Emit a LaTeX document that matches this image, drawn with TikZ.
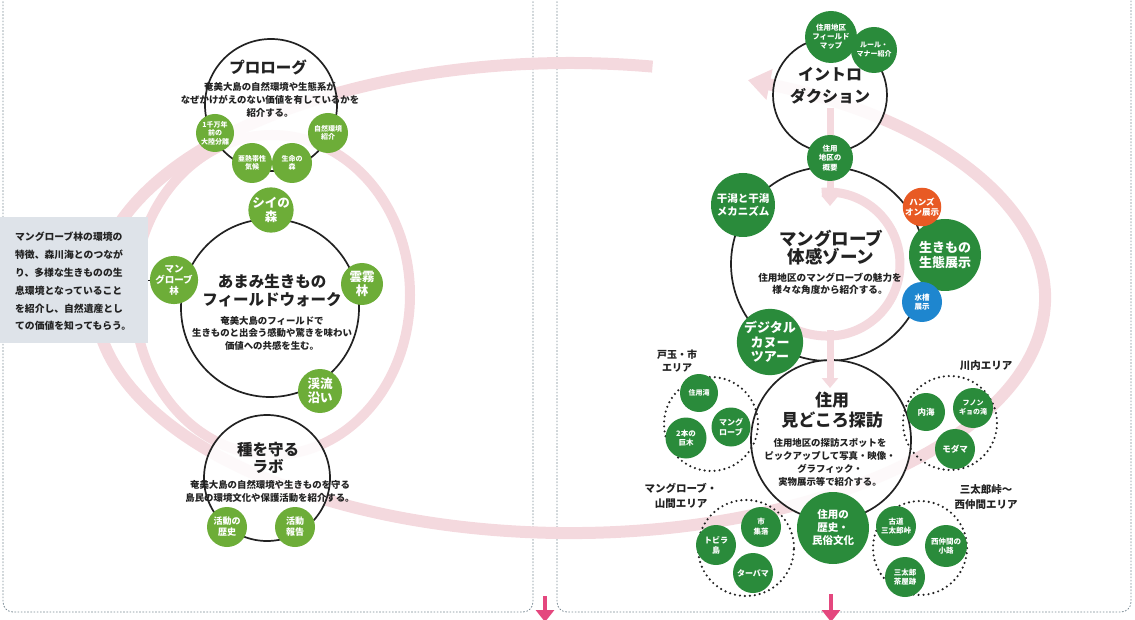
\documentclass[tikz,border=0pt]{standalone}
\usepackage{fontspec}
\setmainfont{Noto Sans CJK JP}
\usetikzlibrary{arrows.meta}
\definecolor{lgreen}{HTML}{6DAD38}
\definecolor{dgreen}{HTML}{2A8B3B}
\definecolor{orng}{HTML}{E85A24}
\definecolor{blu}{HTML}{1E86CF}
\definecolor{pinkband}{HTML}{F4D9DE}
\definecolor{pinkarrow}{HTML}{E4477E}
\definecolor{boxfill}{HTML}{DEE3E9}
\definecolor{ink}{HTML}{222222}
\definecolor{border}{HTML}{7A8A94}
\newcommand\fsx[2]{\fontsize{#1}{#2}\selectfont\bfseries}
\begin{document}
\begin{tikzpicture}[x=1pt,y=-1pt,
  maincirc/.style={circle,draw=ink,line width=1.7pt,fill=white,fill opacity=0.85,inner sep=0pt},
  sat/.style={circle,inner sep=0pt,text=white,align=center},
  lsat/.style={sat,fill=lgreen},
  rsat/.style={sat,fill=dgreen},
  osat/.style={sat,fill=orng},
  bsat/.style={sat,fill=blu},
  areacirc/.style={circle,draw=ink,line width=2.4pt,dash pattern=on 0pt off 5pt,line cap=round,inner sep=0pt},
  ttl/.style={align=center,text=ink,inner sep=0pt},
  desc/.style={align=center,text=ink,inner sep=0pt},
  band/.style={draw=pinkband,line width=12pt},
  rband/.style={draw=pinkband,line width=7pt},
  panel/.style={draw=border,line width=0.8pt,dash pattern=on 1.6pt off 1.6pt,rounded corners=10pt},
  bigarrow/.style={draw=pinkarrow,line width=4pt,-{Triangle[width=18pt,length=12pt]}},
]
\useasboundingbox (0,0) rectangle (1135,620);

% panels
\draw[panel] (533,-5) -- (533,612) -- (3,612) -- (3,-5);
\draw[panel] (557,-5) -- (557,612) -- (1131,612) -- (1131,-5);

% pink background loops
\draw[band,-{Triangle[width=30pt,length=22pt]}] (652.5,66.6) arc[start angle=80,end angle=428,x radius=475pt,y radius=235pt];
\draw[band,line width=10pt] (272,295) ellipse[x radius=138pt,y radius=160pt];

% main circles
\node[maincirc,minimum size=132pt] (prolog) at (271,105) {};
\node[maincirc,minimum size=178pt] (walk) at (270,308) {};
\node[maincirc,minimum size=126pt] (lab) at (267,478) {};
\node[maincirc,minimum size=114pt] (intro) at (830,95) {};
\node[maincirc,minimum size=194pt] (mang) at (828,264) {};
\node[maincirc,minimum size=160pt] (spot) at (831,440) {};

% inner pink ring and vertical arrows on the right
\draw[rband,line width=9pt,-{Triangle[width=20pt,length=13pt]}] (821.7,192.3) arc[start angle=95,end angle=-135,radius=72pt];
\coordinate (v1) at (830,108);
\coordinate (v2) at (830,206);
\coordinate (v3) at (830,330);
\coordinate (v4) at (830,388);
\draw[rband,-{Triangle[width=16pt,length=10pt]}] (v1) -- (v2);
\draw[rband,-{Triangle[width=16pt,length=10pt]}] (v3) -- (v4);

% bottom arrows
\coordinate (b1s) at (545,596);
\coordinate (b1e) at (545,622);
\coordinate (b2s) at (831,594);
\coordinate (b2e) at (831,622);
\draw[bigarrow] (b1s) -- (b1e);
\draw[bigarrow] (b2s) -- (b2e);

% ---------- left panel ----------
\node[ttl,font=\fsx{15.5}{18}] (prologT) at (268,67) {プロローグ};
\node[desc,font=\fsx{9.4}{13}] (prologD) at (270,100) {奄美大島の自然環境や生態系が\\なぜかけがえのない価値を有しているかを\\紹介する。};
\node[lsat,minimum size=38pt,font=\fsx{7}{8.6}] (p1) at (215,133) {1千万年\\前の\\大陸分離};
\node[lsat,minimum size=40pt,font=\fsx{7}{8.6}] (p2) at (252,163) {亜熱帯性\\気候};
\node[lsat,minimum size=40pt,font=\fsx{7}{8.6}] (p3) at (292,163) {生命の\\森};
\node[lsat,minimum size=40pt,font=\fsx{7}{8.6}] (p4) at (328,133) {自然環境\\紹介};

\node[ttl,font=\fsx{15.5}{18}] (walkT) at (272,291) {あまみ生きもの\\フィールドウォーク};
\node[desc,font=\fsx{9.4}{12.5}] (walkD) at (272,333) {奄美大島のフィールドで\\生きものと出会う感動や驚きを味わい\\価値への共感を生む。};
\node[lsat,minimum size=44pt,font=\fsx{12.5}{14}] (w1) at (271,210) {シイの\\森};
\node[lsat,minimum size=42pt,font=\fsx{9.5}{11}] (w2) at (174,280) {マン\\グローブ\\林};
\node[lsat,minimum size=42pt,font=\fsx{12.5}{14}] (w3) at (362,284) {雲霧\\林};
\node[lsat,minimum size=44pt,font=\fsx{12.5}{14}] (w4) at (320,391) {渓流\\沿い};

\node[fill=boxfill,minimum width=149pt,minimum height=125pt,inner sep=0pt] (note) at (73.5,280) {};
\node[anchor=west,align=left,text=ink,inner sep=0pt,font=\fsx{9.8}{17.8}] (noteT) at (15,281.5) {マングローブ林の環境の\\特徴、森川海とのつなが\\り、多様な生きものの生\\息環境となっていること\\を紹介し、自然遺産とし\\ての価値を知ってもらう。};
\draw[ink,line width=0.8pt] (note.east) -- (w2.west);

\node[ttl,font=\fsx{15.5}{17}] (labT) at (268,458) {種を守る\\ラボ};
\node[desc,font=\fsx{9.4}{13}] (labD) at (270,491) {奄美大島の自然環境や生きものを守る\\島民の環境文化や保護活動を紹介する。};
\node[lsat,minimum size=40pt,font=\fsx{9}{11}] (l1) at (227,527) {活動の\\歴史};
\node[lsat,minimum size=40pt,font=\fsx{9}{11}] (l2) at (295,527) {活動\\報告};

% ---------- right panel ----------
\node[ttl,font=\fsx{16}{22}] (introT) at (830,86) {イントロ\\ダクション};
\node[rsat,minimum size=52pt,font=\fsx{7.5}{9}] (i1) at (831,37) {住用地区\\フィールド\\マップ};
\node[rsat,minimum size=46pt,font=\fsx{7}{9}] (i2) at (874,50) {ルール・\\マナー紹介};
\node[rsat,minimum size=46pt,font=\fsx{7.5}{9.5}] (i3) at (830,158) {住用\\地区の\\概要};

\node[ttl,font=\fsx{17.5}{18}] (mangT) at (831,248) {マングローブ\\体感ゾーン};
\node[desc,font=\fsx{9.6}{12}] (mangD) at (830,284) {住用地区のマングローブの魅力を\\様々な角度から紹介する。};
\node[rsat,minimum size=64pt,font=\fsx{10.5}{12.5}] (m1) at (743,205) {干潟と干潟\\メカニズム};
\node[rsat,minimum size=72pt,font=\fsx{13}{15.5}] (m3) at (945,255) {生きもの\\生態展示};
\node[osat,minimum size=38pt,font=\fsx{8.5}{10}] (m2) at (922,207) {ハンズ\\オン展示};
\node[bsat,minimum size=40pt,font=\fsx{7.5}{9.5}] (m4) at (922,302) {水槽\\展示};
\node[rsat,minimum size=66pt,font=\fsx{13}{14.5}] (m5) at (770,342) {デジタル\\カヌー\\ツアー};

\node[ttl,font=\fsx{17}{20}] (spotT) at (832,410) {住用\\見どころ探訪};
\node[desc,font=\fsx{9.4}{13}] (spotD) at (830,462.5) {住用地区の探訪スポットを\\ピックアップして写真・映像・\\グラフィック・\\実物展示等で紹介する。};
\node[rsat,minimum size=72pt,font=\fsx{10.5}{13}] (s0) at (833,528) {住用の\\歴史・\\民俗文化};

% areas
\node[areacirc,minimum size=94pt] (a1) at (711,424) {};
\node[ttl,font=\fsx{10}{12.5}] (a1L) at (677,361) {戸玉・市\\エリア};
\node[rsat,minimum size=38pt,font=\fsx{7}{9}] (a1s1) at (699,393) {住用滝};
\node[rsat,minimum size=41pt,font=\fsx{7.5}{9}] (a1s2) at (686,438) {2本の\\巨木};
\node[rsat,minimum size=39pt,font=\fsx{8}{10}] (a1s3) at (731,427) {マング\\ローブ};

\node[areacirc,minimum size=94pt] (a2) at (950,423) {};
\node[ttl,font=\fsx{10.5}{12.5}] (a2L) at (986,366) {川内エリア};
\node[rsat,minimum size=38pt,font=\fsx{8.5}{10}] (a2s1) at (926,412) {内海};
\node[rsat,minimum size=40pt,font=\fsx{7}{9}] (a2s2) at (973,408) {フノン\\ギョの滝};
\node[rsat,minimum size=40pt,font=\fsx{8.5}{10}] (a2s3) at (955,449) {モダマ};

\node[areacirc,minimum size=96pt] (a3) at (746,548) {};
\node[ttl,font=\fsx{10.5}{15}] (a3L) at (681,496) {マングローブ・\\山間エリア};
\node[rsat,minimum size=40pt,font=\fsx{8}{10}] (a3s1) at (716,545) {トビラ\\島};
\node[rsat,minimum size=40pt,font=\fsx{7.5}{10}] (a3s2) at (761,527) {市\\集落};
\node[rsat,minimum size=40pt,font=\fsx{8}{10}] (a3s3) at (753,573) {ターバマ};

\node[areacirc,minimum size=94pt] (a4) at (920,548) {};
\node[ttl,font=\fsx{10.5}{15}] (a4L) at (986,497.5) {三太郎峠〜\\西仲間エリア};
\node[rsat,minimum size=40pt,font=\fsx{7.5}{9.5}] (a4s1) at (896,526) {古道\\三太郎峠};
\node[rsat,minimum size=42pt,font=\fsx{7.5}{9.5}] (a4s2) at (946,546) {西仲間の\\小路};
\node[rsat,minimum size=40pt,font=\fsx{7.5}{9.5}] (a4s3) at (905,577) {三太郎\\茶屋跡};
\end{tikzpicture}
\end{document}
